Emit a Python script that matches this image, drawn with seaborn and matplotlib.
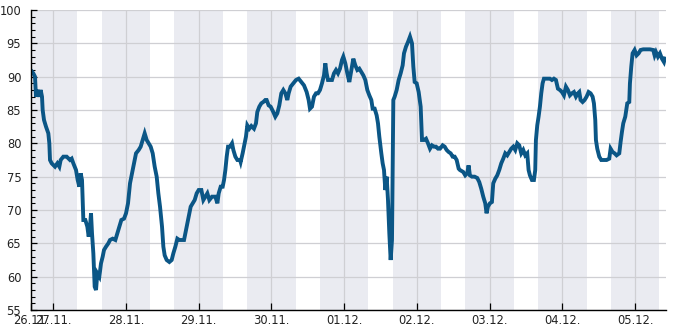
import numpy as np
import pandas as pd
import matplotlib
matplotlib.use("Agg")
import matplotlib.pyplot as plt
from matplotlib.ticker import FixedLocator, FixedFormatter, MultipleLocator
import seaborn as sns

# hours since 26.11. 00:00
hours = [
    16.57, 17.45, 18.0, 18.33, 18.77, 19.43, 19.87, 20.31, 20.53, 20.97, 21.63, 22.4, 22.73, 22.95, 23.5,
    24.6, 25.37, 26.03, 26.47, 27.35, 28.45, 29.55, 30.1, 30.65, 31.53, 32.08, 32.63, 33.07, 33.51, 33.73,
    33.95, 34.61, 35.27, 35.71, 36.15, 36.48, 36.81, 37.25, 37.69, 38.13, 38.57, 39.23, 39.78, 40.33, 40.77,
    41.43, 42.2, 42.75, 43.63, 44.51, 45.17, 45.83, 46.49, 47.37, 48.03, 48.69, 49.35, 50.01, 50.67, 51.33,
    52.21, 52.87, 53.53, 54.19, 54.85, 55.51, 56.17, 56.83, 57.49, 58.15, 58.7, 59.25, 59.91, 60.35, 60.79,
    61.45, 62.33, 63.1, 63.65, 64.31, 64.97, 65.63, 66.4, 67.17, 67.61, 68.05, 68.71, 69.37, 70.03, 70.69,
    71.35, 72.01, 72.89, 73.55, 74.21, 74.87, 75.53, 76.41, 77.51, 78.17, 78.61, 79.27, 79.93, 80.37, 80.81,
    81.25, 81.69, 82.35, 83.01, 83.45, 84.11, 84.77, 85.65,
    85.85, 86.51, 86.95, 87.61, 88.05, 88.71, 89.37, 90.25, 90.91, 91.35, 92.01, 92.67, 93.33, 93.99, 94.43,
    95.09, 95.75, 96.63, 97.29, 97.95, 98.61, 99.27, 99.93, 100.59, 101.25, 101.69, 102.35, 103.23, 104.11,
    104.99, 105.87, 106.75, 107.63, 108.29, 108.73, 109.39, 110.05, 110.71, 111.37, 112.03, 112.69, 113.35,
    113.79, 114.23, 114.67, 115.33, 115.99, 116.65, 117.31, 117.97, 118.63, 119.29, 119.73, 120.39, 121.05,
    121.71, 122.37, 123.03, 123.69, 124.35, 125.01, 125.67, 126.33, 126.99, 127.65, 128.31, 128.97, 129.41,
    130.07, 130.73, 131.17, 131.61, 132.27, 132.71, 133.15, 133.59, 134.03, 134.47, 134.91, 135.35, 135.79,
    136.01, 136.23, 136.67, 137.33, 137.99, 138.65, 139.31, 139.75, 140.41, 141.07, 141.73, 142.39, 142.83,
    143.27, 143.93, 144.59, 145.25, 145.69, 146.35, 147.01, 147.67, 148.33, 148.99, 149.65, 150.31, 150.97,
    151.63, 152.51, 153.17, 153.83, 154.49, 155.15, 155.81, 156.47, 157.13, 157.79,
    158.2, 159.3, 159.96, 160.62, 161.06, 161.5, 162.16, 163.04, 163.92, 164.58, 165.24, 165.9, 166.56,
    167.0, 167.44, 168.1, 168.76, 169.2, 169.86, 170.52, 171.18, 171.84, 172.5, 173.16, 173.82, 174.48,
    175.14, 175.8, 176.46, 177.12, 177.78, 178.44, 179.1, 179.76, 180.42, 180.86, 181.3, 181.96, 182.62,
    183.06, 183.28, 183.72, 184.16, 184.6, 185.04, 185.48, 185.92, 186.58, 187.24, 187.9, 188.56, 189.22,
    189.88, 190.54, 191.2, 191.86, 192.52, 193.18, 193.84, 194.5, 195.16, 195.82, 196.48, 197.14, 197.58,
    198.02, 198.68, 199.34, 200.0, 200.66, 201.32, 201.98, 202.42, 202.86, 203.08, 203.52, 204.18, 204.84,
    205.72, 206.6, 207.48, 207.92, 208.58, 209.24, 209.9, 210.78, 211.22, 211.66, 212.1, 212.76, 213.42,
    214.08, 214.3, 214.74, 215.18, 215.84, 216.5, 217.16, 217.82, 218.7, 219.8, 220.9, 222.0, 222.44,
    222.88, 223.54, 224.2, 224.86, 225.52, 225.96,
]
values = [
    91, 90.5, 90, 87, 88, 87, 88, 87, 85, 83.5, 82.5, 81.5, 80, 77.5, 77,
    76.5, 77, 76.5, 77.5, 78, 78, 77.5, 77.7, 77, 76, 74.5, 73.5, 75.5, 74.5, 71.5,
    68.5, 68.5, 67.5, 66, 67.5, 69.5, 66.5, 63.5, 58.5, 58, 60.5, 60, 62, 63, 64,
    64.5, 65, 65.5, 65.7, 65.5, 66.5, 67.5, 68.5, 68.7, 69.5, 71, 74, 75.5, 77, 78.5,
    79, 79.5, 80.5, 81.5, 80.5, 80, 79.5, 78.5, 76.5, 75, 72.5, 70.5, 67.5, 64.5, 63.2,
    62.5, 62.2, 62.5, 63.5, 64.5, 65.7, 65.5, 65.5, 65.5, 66.5, 67.5, 69, 70.5, 71, 71.5,
    72.5, 73, 73, 71.5, 72, 72.5, 71.5, 72, 72, 71, 72.5, 73.5, 73.5, 74.5, 76,
    78, 79.5, 79.5, 80, 79, 78, 77.5, 77.5,
    77.2, 78.5, 79.5, 81, 82.7, 82.2, 82.6, 82.2, 83, 84.7, 85.5, 86, 86.2, 86.5, 86.5,
    85.7, 85.5, 84.7, 84, 84.5, 85.7, 87.5, 88, 87.5, 86.5, 87.5, 88.5, 89, 89.5,
    89.7, 89.2, 88.7, 87.7, 86.5, 85.2, 85.5, 87, 87.5, 87.5, 88, 89, 90.2,
    92, 90.5, 89.5, 89.5, 89.5, 90.5, 91, 90.5, 91.2, 92.5, 93, 92, 90.5,
    89.2, 91, 92.7, 91.7, 91, 91.2, 90.7, 90.2, 89.5, 88, 87.2, 86.5, 85.2,
    85.2, 84.2, 83, 81, 78.5, 77, 76, 73, 75, 71.5, 66.5, 62.5, 65.5,
    75.5, 86.5, 87, 88, 89.5, 90.5, 91.7, 93.5, 94.5, 95.2, 96, 95, 91.5,
    89.2, 89, 87.7, 85.5, 80.5, 80.5, 80.7, 80, 79.2, 79.7, 79.5, 79.5, 79.2,
    79.2, 79.7, 79.5, 79, 78.7, 78.5, 78, 78, 77.5, 76.2,
    76, 75.7, 75.2, 75.5, 76.7, 75.2, 75, 75, 74.8, 74.2, 73.2, 72, 71,
    69.5, 70.5, 71, 71.2, 74, 74.7, 75.2, 76, 77, 77.7, 78.5, 78.2, 78.7,
    79.2, 79.5, 79, 80, 79.7, 78.5, 79, 78.2, 78.5, 76, 75.2, 74.5, 74.5,
    76, 80.5, 82.7, 84, 85.5, 87.5, 89, 89.7, 89.7, 89.7, 89.7, 89.5, 89.7,
    89.5, 88.2, 88, 87.7, 87.2, 88.5, 88, 87.2, 87.5, 87.7, 87, 87.5, 87.7,
    86.5, 86.2, 86.5, 87, 87.7, 87.5, 87, 86, 83.5, 80.5, 79.2, 78, 77.5,
    77.5, 77.5, 77.7, 79.2, 78.7, 78.5, 78.2, 78.5, 80.2, 81.7, 83, 84, 86,
    86.2, 89, 91.5, 93.5, 94, 93.2, 93.5, 94, 94.1, 94.1, 94.1, 94, 93.2,
    93.7, 93, 93.5, 92.7, 92.2, 93,
]

tick_hours = [16.68, 24, 48, 72, 96, 120, 144, 168, 192, 216]
tick_labels = ["26.11.", "27.11.", "28.11.", "29.11.", "30.11.", "01.12.",
               "02.12.", "03.12.", "04.12.", "05.12."]
# night bands (16:00 -> 08:00), hours since 26.11. 00:00
band_start = [16, 40, 64, 88, 112, 136, 160, 184, 208]
band_end = [32, 56, 80, 104, 128, 152, 176, 200, 224]

x_min, x_max = 16.68, 226.2
y_min, y_max = 55, 100

sns.set_theme(style="ticks")
plt.rcParams["font.family"] = ["DejaVu Sans"]

df = pd.DataFrame({"hour": hours, "value": values})

fig = plt.figure(figsize=(6.85, 3.3), dpi=100)
ax = fig.add_axes([31 / 685, 1 - 310 / 330, (666 - 31) / 685, 300 / 330])

for s, e in zip(band_start, band_end):
    ax.axvspan(s, e, color="#eaebf1", lw=0, zorder=0)

sns.lineplot(data=df, x="hour", y="value", ax=ax, color="#0b5686",
             linewidth=2.8, zorder=3, estimator=None,
             solid_joinstyle="miter", solid_capstyle="butt")

ax.set_xlim(x_min, x_max)
ax.set_ylim(y_min, y_max)
ax.xaxis.set_major_locator(FixedLocator(tick_hours))
ax.xaxis.set_major_formatter(FixedFormatter(tick_labels))
ax.yaxis.set_major_locator(MultipleLocator(5))
ax.yaxis.set_minor_locator(MultipleLocator(1))

ax.grid(True, which="major", color="#cfcfd3", linewidth=0.9, zorder=1)
ax.set_axisbelow(True)

for side in ["top", "right"]:
    ax.spines[side].set_visible(False)
for side in ["left", "bottom"]:
    ax.spines[side].set_color("#000000")
    ax.spines[side].set_linewidth(1.0)
    ax.spines[side].set_zorder(4)

ax.tick_params(axis="y", which="major", direction="in", length=4, width=0.9,
               labelsize=8.3, pad=7, colors="#000000", labelcolor="#222222")
ax.tick_params(axis="y", which="minor", direction="in", length=3, width=0.8, colors="#000000")
ax.tick_params(axis="x", which="major", direction="in", length=5, width=0.9,
               labelsize=8.3, pad=3, colors="#000000", labelcolor="#222222")

ax.set_xlabel("")
ax.set_ylabel("")

fig.savefig("out.png", dpi=100)
